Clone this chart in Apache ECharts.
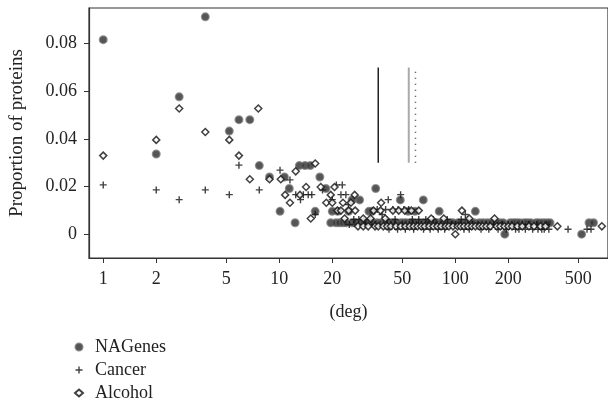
<!DOCTYPE html>
<html>
<head>
<meta charset="utf-8">
<script src="https://cdn.jsdelivr.net/npm/echarts@6/dist/echarts.min.js"></script>
<style>
  html, body { margin: 0; padding: 0; background: #fff; }
  #chart { width: 608px; height: 411px; }
</style>
</head>
<body>
<div id="chart"></div>
<script>
  // values: degree (log axis) and proportion of proteins
  var nagDeg  = [1, 2, 2.7, 3.8, 5.2, 5.9, 6.8, 7.7, 8.8, 10.1, 10.7, 11.4, 12.3, 13, 14, 15, 16, 17, 18.4, 20, 21.5, 24.8, 25.9, 28.6, 32.3, 33.7, 35.3, 48.7, 54, 59, 65.8, 81, 130, 191, 522];
  var nagProp = [0.0817, 0.0337, 0.0577, 0.0913, 0.0433, 0.0481, 0.0481, 0.0288, 0.024, 0.0096, 0.024, 0.0192, 0.0048, 0.0288, 0.0288, 0.0288, 0.0096, 0.024, 0.0192, 0.0096, 0.0096, 0.0096, 0.0144, 0.0144, 0.0096, 0.0096, 0.0192, 0.0144, 0.0096, 0.0096, 0.0144, 0.0096, 0.0096, 0, 0];
  // degrees where NAGenes sits on the lowest level
  var nagLowDeg = [19.6, 21, 22, 23, 24, 26, 27, 29, 30, 31, 33, 34, 36, 38, 40, 42, 44, 46, 49, 51, 53, 56, 58, 62, 66, 69, 72, 76, 79, 84, 88, 93, 97, 104, 110, 116, 122, 128, 137, 144, 152, 160, 170, 178, 187, 205, 214, 222, 232, 246, 256, 268, 288, 300, 315, 330, 345, 575, 610];
  var nagLowProp = 0.0048;

  var cancerDeg  = [1, 2, 2.7, 3.8, 5.2, 5.9, 7.7, 10.1, 11.5, 12.4, 13.2, 13.7, 14.6, 15.3, 16, 17.6, 20, 21.1, 22.4, 22.8, 23.9, 24.7, 36, 38.4, 40.2, 41.6, 44.2, 47.3, 48.9, 51, 54.4, 114];
  var cancerProp = [0.0207, 0.0186, 0.0145, 0.0186, 0.0166, 0.029, 0.0186, 0.0269, 0.0228, 0.0166, 0.0145, 0.0166, 0.0166, 0.0166, 0.0083, 0.0186, 0.0145, 0.0207, 0.0166, 0.0207, 0.0166, 0.0124, 0.0104, 0.0083, 0.0104, 0.0145, 0.0104, 0.0104, 0.0166, 0.0104, 0.0104, 0.0083];
  var cancerDeg3 = [26.5, 28.3, 30.2, 33, 40.8, 45.5, 57, 62, 68, 75, 90, 108, 118];
  var cancerDeg2 = [25, 31, 35, 43, 50, 55, 60, 64, 70, 78, 83, 95, 100, 105, 125, 135, 150, 165, 185, 200, 210, 240, 260, 290, 330];
  var cancerDeg1 = [42, 47, 52, 58, 66, 72, 80, 87, 112, 120, 140, 155, 175, 195, 220, 230, 250, 275, 295, 310, 320, 340, 437, 560, 590];
  var cancerLevels = [0.0062, 0.0041, 0.0021];

  var alcDeg  = [1, 2, 2.7, 3.8, 5.2, 5.9, 6.8, 7.6, 8.8, 10.2, 10.8, 11.5, 12.4, 13.1, 14.2, 15.1, 16, 17.2, 18.5, 19.6, 20, 20.6, 21.4, 22.4, 23, 24.8, 25.5, 26.8, 27, 34.3, 37.6, 37.9, 44.2, 47.7, 51.6, 56.3, 62, 109, 100];
  var alcProp = [0.033, 0.0396, 0.0528, 0.0429, 0.0396, 0.033, 0.0231, 0.0528, 0.0231, 0.0231, 0.0165, 0.0132, 0.0264, 0.0165, 0.0198, 0.0066, 0.0297, 0.0198, 0.0132, 0.0165, 0.0132, 0.0198, 0.0099, 0.0099, 0.0132, 0.0099, 0.0132, 0.0165, 0.0099, 0.0099, 0.0099, 0.0132, 0.0099, 0.0099, 0.0099, 0.0099, 0.0099, 0.0099, 0];
  var alcDeg2 = [23.5, 30, 33, 40, 73, 86, 120, 167];
  var alcDeg1 = [28, 30, 32, 35, 36.5, 39, 41, 43, 46, 49, 52, 55, 58, 61, 64, 67, 71, 75, 79, 83, 88, 92, 97, 103, 107, 112, 118, 124, 130, 137, 143, 150, 158, 172, 180, 190, 200, 210, 225, 240, 262, 280, 305, 325, 380, 680];
  var alcLevels = [0.0066, 0.0033];

  // vertical reference lines
  var refDeg = [36.5, 54.4, 59.4];
  var refRange = [0.03, 0.07];

  var xTicks = [1, 2, 5, 10, 20, 50, 100, 200, 500];
  var yTicks = [0, 0.02, 0.04, 0.06, 0.08];

  function pairs(degs, props) {
    return degs.map(function (d, i) { return [d, props[i]]; });
  }
  function level(degs, v) {
    return degs.map(function (d) { return [d, v]; });
  }

  var nagData = pairs(nagDeg, nagProp).concat(level(nagLowDeg, nagLowProp));
  var cancerData = pairs(cancerDeg, cancerProp)
    .concat(level(cancerDeg3, cancerLevels[0]))
    .concat(level(cancerDeg2, cancerLevels[1]))
    .concat(level(cancerDeg1, cancerLevels[2]));
  var alcData = pairs(alcDeg, alcProp)
    .concat(level(alcDeg2, alcLevels[0]))
    .concat(level(alcDeg1, alcLevels[1]));

  var font = 'Liberation Serif';
  var plusPath = 'path://M4,0H6V4H10V6H6V10H4V6H0V4H4Z';

  var refStyles = [
    { color: '#222', width: 1.5, type: 'solid' },
    { color: '#aaa', width: 2, type: 'solid' },
    { color: '#444', width: 1.5, type: [1, 5] }
  ];

  var series = [
    {
      name: 'NAGenes',
      type: 'scatter',
      symbol: 'circle',
      symbolSize: 7,
      itemStyle: { color: '#2a2a2a', borderColor: 'rgba(95,95,95,0.85)', borderWidth: 2 },
      data: nagData
    },
    {
      name: 'Cancer',
      type: 'scatter',
      symbol: plusPath,
      symbolSize: 7,
      itemStyle: { color: '#111' },
      data: cancerData
    },
    {
      name: 'Alcohol',
      type: 'scatter',
      symbol: 'diamond',
      symbolSize: 7,
      itemStyle: { color: '#fff', borderColor: '#111', borderWidth: 1.5 },
      data: alcData
    }
  ];

  refDeg.forEach(function (d, i) {
    series.push({
      name: 'ref' + i,
      type: 'line',
      symbol: 'none',
      silent: true,
      lineStyle: refStyles[i],
      data: [[d, refRange[0]], [d, refRange[1]]]
    });
  });

  var chart = echarts.init(document.getElementById('chart'));
  chart.setOption({
    animation: false,
    backgroundColor: '#fff',
    textStyle: { fontFamily: font, color: '#222' },
    grid: {
      show: true,
      left: 89,
      right: -2,
      top: 8,
      bottom: 153,
      borderColor: '#333',
      borderWidth: 1.2
    },
    legend: {
      data: ['NAGenes', 'Cancer', 'Alcohol'],
      orient: 'vertical',
      left: 74,
      top: 338,
      padding: 0,
      height: 73,
      itemWidth: 8,
      itemHeight: 7,
      itemGap: 5,
      textStyle: { fontFamily: font, fontSize: 18, color: '#222', padding: [0, 0, 0, 7] }
    },
    xAxis: {
      type: 'log',
      min: 0.83,
      max: 737,
      name: '(deg)',
      nameLocation: 'middle',
      nameGap: 45,
      nameTextStyle: { fontFamily: font, fontSize: 18, color: '#222' },
      axisLine: { onZero: false, lineStyle: { color: '#333', width: 1.2 } },
      axisTick: { customValues: xTicks, length: 5, lineStyle: { color: '#333' } },
      axisLabel: {
        customValues: xTicks,
        margin: 12,
        fontFamily: font,
        fontSize: 18,
        color: '#222',
        formatter: function (v) { return String(v); }
      },
      splitLine: { show: false },
      minorTick: { show: false }
    },
    yAxis: {
      type: 'value',
      min: -0.01,
      max: 0.095,
      name: 'Proportion of proteins',
      nameLocation: 'middle',
      nameGap: 62,
      nameTextStyle: { fontFamily: font, fontSize: 19, color: '#222' },
      axisLine: { show: true, onZero: false, lineStyle: { color: '#333', width: 1.2 } },
      axisTick: { show: true, customValues: yTicks, length: 5, lineStyle: { color: '#333' } },
      axisLabel: {
        customValues: yTicks,
        margin: 12,
        fontFamily: font,
        fontSize: 18,
        color: '#222',
        formatter: function (v) { return v === 0 ? '0' : v.toFixed(2); }
      },
      splitLine: { show: false }
    },
    series: series
  });
</script>
</body>
</html>
